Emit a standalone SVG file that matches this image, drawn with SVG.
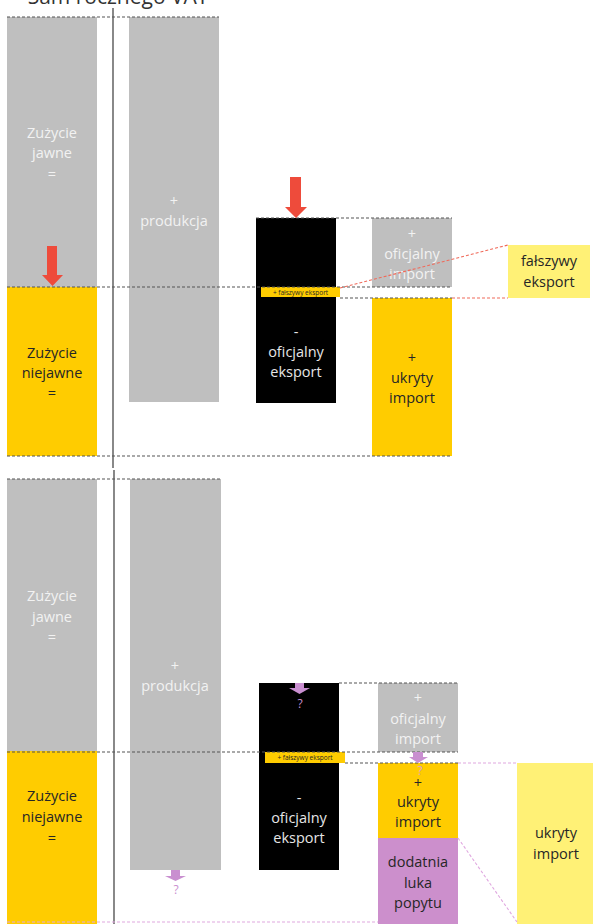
<svg xmlns="http://www.w3.org/2000/svg" width="593" height="924" viewBox="0 0 593 924">
  <style>
    text { font-family: "Open Sans", "Noto Sans", "Liberation Sans", sans-serif; text-anchor: middle; }
    .lbl { font-size: 14.5px; }
    .light { fill: #f2f2f2; }
    .dim { fill: #e6e6e6; }
    .dark { fill: #262626; }
    .gray { fill: #bfbfbf; }
    .yel { fill: #ffcc00; }
    .pale { fill: #fff176; }
    .blk { fill: #000000; }
    .pur { fill: #cc8fcc; }
    .dash { stroke: #555555; stroke-width: 1.2; stroke-dasharray: 3 2; fill: none; }
    .rdash { stroke: #f06a5a; stroke-width: 1.1; stroke-dasharray: 3 2; fill: none; }
    .pdash { stroke: #e0a8e0; stroke-width: 1.1; stroke-dasharray: 3 2; fill: none; }
    .axis { stroke: #6b6b6b; stroke-width: 1.6; }
    .red { fill: #ee4b3b; }
    .parr { fill: #c98fd0; }
    .q { font-size: 12px; fill: #c98fd0; }
    .tag { font-size: 6.5px; fill: #262626; }
  </style>

  <!-- heading, mostly above the frame -->
  <text x="118" y="4" style="font-size:21px;fill:#333333">Sam rocznego VAT</text>

  <!-- upper scenario -->
  <g id="top-jawne">
    <rect class="gray" x="7" y="17" width="90" height="270"/>
    <text class="lbl light" x="52" y="138">Zużycie</text>
    <text class="lbl light" x="52" y="158">jawne</text>
    <text class="lbl light" x="52" y="179">=</text>
  </g>
  <g id="top-niejawne">
    <rect class="yel" x="7" y="287" width="90" height="169"/>
    <text class="lbl dark" x="52" y="358">Zużycie</text>
    <text class="lbl dark" x="52" y="378">niejawne</text>
    <text class="lbl dark" x="52" y="398">=</text>
  </g>
  <g id="top-produkcja">
    <rect class="gray" x="129" y="17" width="90" height="385"/>
    <text class="lbl light" x="174" y="206">+</text>
    <text class="lbl light" x="174" y="226">produkcja</text>
  </g>
  <g id="top-eksport">
    <rect class="blk" x="256" y="218" width="80" height="185"/>
    <text class="lbl dim" x="296" y="337">-</text>
    <text class="lbl dim" x="296" y="357">oficjalny</text>
    <text class="lbl dim" x="296" y="377">eksport</text>
  </g>
  <g id="top-import">
    <rect class="gray" x="372" y="218" width="80" height="69"/>
    <text class="lbl light" x="412" y="239">+</text>
    <text class="lbl light" x="412" y="259">oficjalny</text>
    <text class="lbl light" x="412" y="279">import</text>
  </g>
  <g id="top-ukryty">
    <rect class="yel" x="372" y="298" width="80" height="158"/>
    <text class="lbl dark" x="412" y="363">+</text>
    <text class="lbl dark" x="412" y="383">ukryty</text>
    <text class="lbl dark" x="412" y="403">import</text>
  </g>
  <g id="top-falszywy-tag">
    <rect class="yel" x="261" y="287" width="79" height="10"/>
    <text class="tag" x="300.5" y="294.5">+ fałszywy eksport</text>
  </g>
  <g id="top-falszywy">
    <rect class="pale" x="508" y="245" width="82" height="53"/>
    <text class="lbl dark" x="549" y="266">fałszywy</text>
    <text class="lbl dark" x="549" y="287">eksport</text>
  </g>

  <!-- lower scenario -->
  <g id="bot-jawne">
    <rect class="gray" x="7" y="479" width="90" height="272"/>
    <text class="lbl light" x="52" y="601">Zużycie</text>
    <text class="lbl light" x="52" y="622">jawne</text>
    <text class="lbl light" x="52" y="642">=</text>
  </g>
  <g id="bot-niejawne">
    <rect class="yel" x="7" y="751" width="90" height="173"/>
    <text class="lbl dark" x="52" y="801">Zużycie</text>
    <text class="lbl dark" x="52" y="822">niejawne</text>
    <text class="lbl dark" x="52" y="843">=</text>
  </g>
  <g id="bot-produkcja">
    <rect class="gray" x="130" y="479" width="91" height="391"/>
    <text class="lbl light" x="175" y="671">+</text>
    <text class="lbl light" x="175" y="691">produkcja</text>
  </g>
  <g id="bot-eksport">
    <rect class="blk" x="259" y="683" width="80" height="187"/>
    <text class="lbl dim" x="299" y="803">-</text>
    <text class="lbl dim" x="299" y="823">oficjalny</text>
    <text class="lbl dim" x="299" y="843">eksport</text>
  </g>
  <g id="bot-import">
    <rect class="gray" x="378" y="683" width="80" height="69"/>
    <text class="lbl light" x="418" y="703">+</text>
    <text class="lbl light" x="418" y="724">oficjalny</text>
    <text class="lbl light" x="418" y="744">import</text>
  </g>
  <g id="bot-ukryty">
    <rect class="yel" x="378" y="763" width="80" height="75"/>
    <text class="lbl dark" x="418" y="788">+</text>
    <text class="lbl dark" x="418" y="807">ukryty</text>
    <text class="lbl dark" x="418" y="827">import</text>
  </g>
  <g id="bot-luka">
    <rect class="pur" x="378" y="838" width="80" height="86"/>
    <text class="lbl dark" x="418" y="867">dodatnia</text>
    <text class="lbl dark" x="418" y="888">luka</text>
    <text class="lbl dark" x="418" y="908">popytu</text>
  </g>
  <g id="bot-falszywy-tag">
    <rect class="yel" x="265" y="752" width="80" height="11"/>
    <text class="tag" x="305" y="760">+ fałszywy eksport</text>
  </g>
  <g id="bot-ukryty-import">
    <rect class="pale" x="517" y="763" width="76" height="161"/>
    <text class="lbl dark" x="556" y="838">ukryty</text>
    <text class="lbl dark" x="556" y="859">import</text>
  </g>

  <!-- guide lines, links and arrows -->
  <g id="connectors">
    <line class="axis" x1="113" y1="8" x2="113" y2="468"/>
    <line class="axis" x1="114" y1="470" x2="114" y2="924"/>

    <line class="dash" x1="7" y1="17" x2="219" y2="17"/>
    <line class="dash" x1="256" y1="218" x2="452" y2="218"/>
    <line class="dash" x1="7" y1="287" x2="452" y2="287"/>
    <line class="dash" x1="340" y1="298" x2="452" y2="298"/>
    <line class="dash" x1="7" y1="456" x2="452" y2="456"/>
    <line class="rdash" x1="340" y1="288" x2="508" y2="245"/>
    <line class="rdash" x1="452" y1="298" x2="508" y2="298"/>

    <line class="dash" x1="7" y1="479" x2="221" y2="479"/>
    <line class="dash" x1="339" y1="683" x2="458" y2="683"/>
    <line class="dash" x1="7" y1="752" x2="458" y2="752"/>
    <line class="dash" x1="345" y1="763" x2="458" y2="763"/>
    <line class="pdash" x1="458" y1="763" x2="517" y2="763"/>
    <line class="pdash" x1="458" y1="838" x2="517" y2="922"/>
    <line class="pdash" x1="7" y1="922" x2="378" y2="922"/>

    <path class="red" d="M47,246 H57 V275 H63 L52.5,286 L42,275 H47 Z"/>
    <path class="red" d="M290,177 H301 V207 H307 L296,218 L285,207 H290 Z"/>

    <path class="parr" d="M171,870 H180 V876 H186 L175.5,881 L165,876 H171 Z"/>
    <text class="q" x="176" y="894">?</text>
    <path class="parr" d="M295,683 H304 V688 H310 L299.5,694 L289,688 H295 Z"/>
    <text class="q" x="300" y="708">?</text>
    <path class="parr" d="M413,752 H423 V757 H428 L418,763 L409,757 H413 Z"/>
    <text class="q" x="420" y="775" style="fill:#d9a0c8">?</text>
  </g>
</svg>
